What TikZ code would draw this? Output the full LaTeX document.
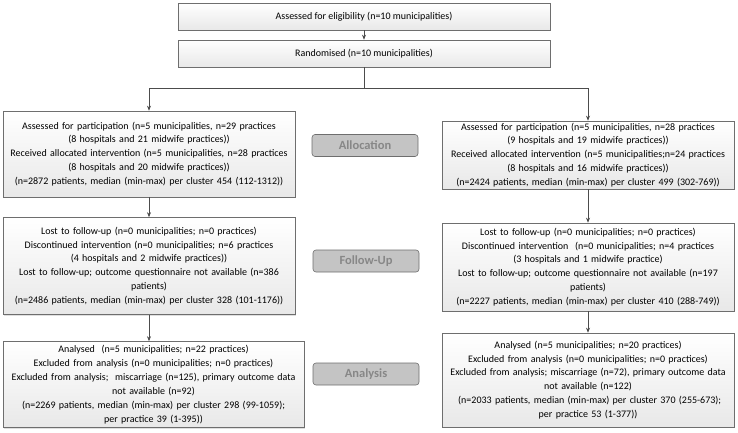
\documentclass[tikz,border=0pt]{standalone}
\usepackage{fontspec}
\setmainfont{Carlito}
\usetikzlibrary{arrows.meta,shadows}

\definecolor{boxline}{RGB}{110,110,110}
\definecolor{phasefill}{RGB}{196,196,196}
\definecolor{phasetext}{RGB}{135,135,135}

\begin{document}
\begin{tikzpicture}[x=1pt,y=-1pt,
		flowbox/.style={draw=boxline, line width=0.6pt, top color=white, bottom color=black!9,
			drop shadow={opacity=0.25, shadow xshift=1pt, shadow yshift=-1pt},
			inner sep=0pt, align=center, font=\fontsize{10}{13.9}\selectfont},
		phase/.style={draw=boxline, fill=phasefill, rounded corners=3pt, line width=0.6pt,
			minimum width=106pt, minimum height=22pt, inner sep=0pt,
			text=phasetext, font=\fontsize{12.5}{14}\selectfont\bfseries},
		link/.style={draw=black!70, line width=0.6pt},
		arr/.style={link, -{Stealth[length=5pt,width=4pt]}}]
	\useasboundingbox (0,0) rectangle (738,433);

	% top of the chart
	\node[flowbox, minimum width=372pt, minimum height=27pt] (elig) at (364,16.5)
		{Assessed for eligibility (n=10 municipalities)};
	\node[flowbox, minimum width=372pt, minimum height=27pt] (rand) at (364,53.5)
		{Randomised (n=10 municipalities)};
	\coordinate (split) at (364,88);

	% left arm
	\node[flowbox, minimum width=292pt, minimum height=86pt, text width=290pt] (allocL) at (149,154)
		{Assessed for participation (n=5 municipalities, n=29 practices\\
		(8 hospitals and 21 midwife practices))\\
		Received allocated intervention (n=5 municipalities, n=28 practices\\
		(8 hospitals and 20 midwife practices))\\
		(n=2872 patients, median (min-max) per cluster 454 (112-1312))};
	\node[flowbox, minimum width=292pt, minimum height=97pt, text width=290pt] (followL) at (149,266)
		{Lost to follow-up (n=0 municipalities; n=0 practices)\\
		Discontinued intervention (n=0 municipalities; n=6 practices\\
		(4 hospitals and 2 midwife practices))\\
		Lost to follow-up; outcome questionnaire not available (n=386\\
		patients)\\
		(n=2486 patients, median (min-max) per cluster 328 (101-1176))};
	\node[flowbox, minimum width=301pt, minimum height=86pt, text width=299pt] (anaL) at (153.5,384.5)
		{Analysed\ \ (n=5 municipalities; n=22 practices)\\
		Excluded from analysis (n=0 municipalities; n=0 practices)\\
		Excluded from analysis;\ \ miscarriage (n=125), primary outcome data\\
		not available (n=92)\\
		(n=2269 patients, median (min-max) per cluster 298 (99-1059);\\
		per practice 39 (1-395))};

	% right arm
	\node[flowbox, minimum width=292pt, minimum height=68pt, text width=290pt] (allocR) at (588,155)
		{Assessed for participation (n=5 municipalities, n=28 practices\\
		(9 hospitals and 19 midwife practices))\\
		Received allocated intervention (n=5 municipalities;n=24 practices\\
		(8 hospitals and 16 midwife practices))\\
		(n=2424 patients, median (min-max) per cluster 499 (302-769))};
	\node[flowbox, minimum width=292pt, minimum height=88pt, text width=290pt] (followR) at (588,267)
		{Lost to follow-up (n=0 municipalities; n=0 practices)\\
		Discontinued intervention\ \ (n=0 municipalities; n=4 practices\\
		(3 hospitals and 1 midwife practice)\\
		Lost to follow-up; outcome questionnaire not available (n=197\\
		patients)\\
		(n=2227 patients, median (min-max) per cluster 410 (288-749))};
	\node[flowbox, minimum width=292pt, minimum height=94pt, text width=290pt] (anaR) at (588,380)
		{Analysed (n=5 municipalities; n=20 practices)\\
		Excluded from analysis (n=0 municipalities; n=0 practices)\\
		Excluded from analysis; miscarriage (n=72), primary outcome data\\
		not available (n=122)\\
		\ (n=2033 patients, median (min-max) per cluster 370 (255-673);\\
		per practice 53 (1-377))};

	% phase labels
	\node[phase] (allocation) at (365,145.5) {Allocation};
	\node[phase] (followup) at (366,261) {Follow-Up};
	\node[phase] (analysis) at (366,374) {Analysis};

	% connectors
	\draw[arr] (elig) -- (rand);
	\draw[link] (rand.south) -- (split);
	\draw[arr] (split) -| (allocL.north);
	\draw[arr] (split) -| (allocR.north);
	\draw[arr] (allocL) -- (followL);
	\draw[arr] (followL.south) -- (followL.south |- anaL.north);
	\draw[arr] (allocR) -- (followR);
	\draw[arr] (followR) -- (anaR);
\end{tikzpicture}
\end{document}
